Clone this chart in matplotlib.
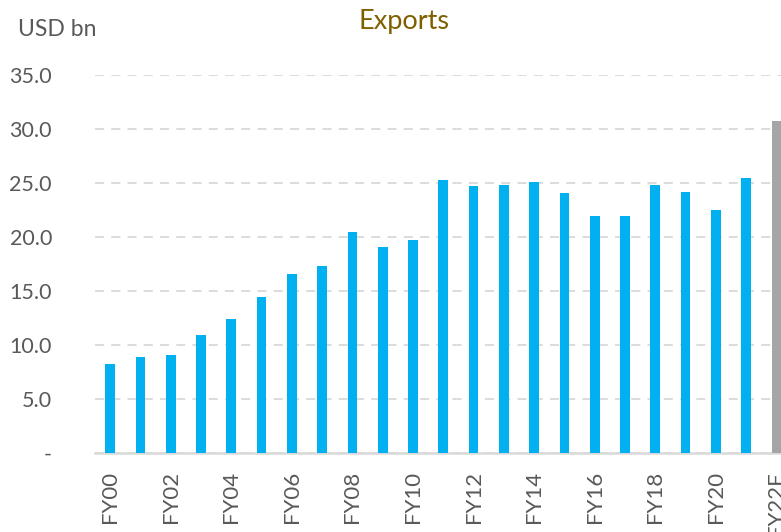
import matplotlib
matplotlib.use("Agg")
import matplotlib.pyplot as plt
import numpy as np

plt.rcParams['font.family'] = ['Lato', 'DejaVu Sans']

years = ['FY%02d' % i for i in range(22)] + ['FY22F']
exports = [8.2, 8.9, 9.1, 10.9, 12.4, 14.4, 16.6, 17.3, 20.5, 19.1, 19.7,
           25.3, 24.7, 24.8, 25.1, 24.1, 21.9, 21.9, 24.8, 24.2, 22.5, 25.5, 30.7]
yticks = [0, 5, 10, 15, 20, 25, 30, 35]
ytick_labels = ['-', '5.0', '10.0', '15.0', '20.0', '25.0', '30.0', '35.0']

colors = ['#00B0F0'] * (len(years) - 1) + ['#A5A5A5']
txt = '#595959'

fig = plt.figure(figsize=(7.81, 5.32), dpi=100)
ax = fig.add_axes([95 / 781, 79 / 532, 686 / 781, 378 / 532])

x = np.arange(len(years))
ax.bar(x, exports, width=0.32, color=colors, zorder=3)

ax.set_xlim(-0.5, 22.15)
ax.set_ylim(0, 35)
ax.set_yticks(yticks)
ax.set_yticklabels(ytick_labels)
ax.set_xticks(x[::2])
ax.set_xticklabels(years[::2], rotation=90)
ax.tick_params(length=0, labelsize=16, colors=txt)
ax.tick_params(axis='y', labelsize=15.5, pad=31)
ax.tick_params(axis='x', pad=13)

ax.grid(axis='y', color='#D9D9D9', linestyle=(0, (5, 4)), linewidth=1.3, zorder=0)
for s in ['top', 'right', 'left']:
    ax.spines[s].set_visible(False)
ax.spines['bottom'].set_color('#D9D9D9')
ax.spines['bottom'].set_linewidth(1.8)

fig.text(18 / 781, 1 - 30 / 532, 'USD bn', fontsize=16.5, color=txt, va='center', ha='left')
fig.text(404 / 781, 1 - 22 / 532, 'Exports', fontsize=19.5, color='#7F6000', va='center', ha='center')

fig.savefig('out.png', dpi=100)
